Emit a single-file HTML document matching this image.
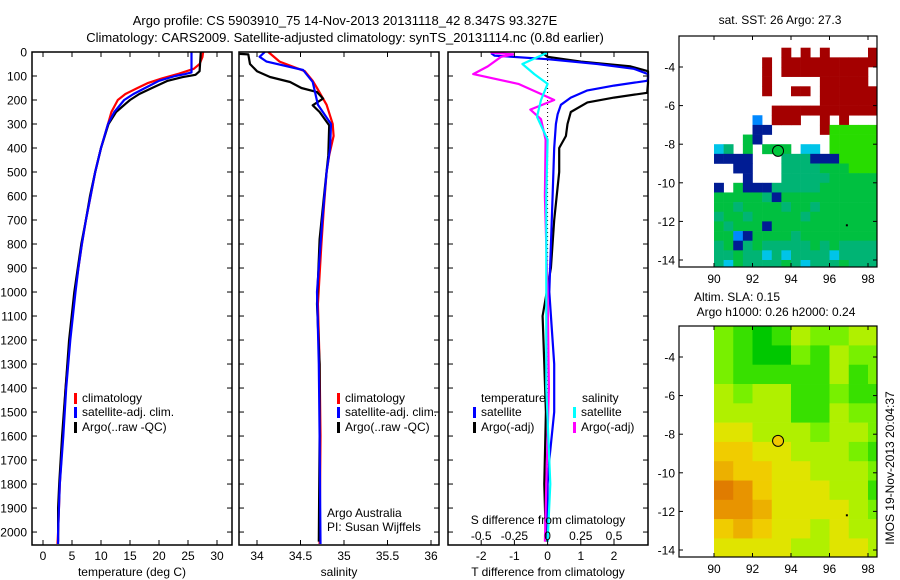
<!DOCTYPE html>
<html><head><meta charset="utf-8">
<style>
html,body{margin:0;padding:0;background:#fff;}
svg{display:block;font-family:"Liberation Sans",Arial,sans-serif;}
text{fill:#000;}
</style></head>
<body>
<svg id="chart" width="900" height="580" viewBox="0 0 900 580" xmlns="http://www.w3.org/2000/svg">
<text x="345" y="25" font-size="13" text-anchor="middle">Argo profile: CS 5903910_75 14-Nov-2013 20131118_42 8.347S 93.327E</text>
<text x="345" y="42" font-size="13" text-anchor="middle">Climatology: CARS2009. Satellite-adjusted climatology: synTS_20131114.nc (0.8d earlier)</text>
<g id="g1"></g>
<g id="g2"></g>
<g id="g3"></g>
<g id="g4"></g>
<g id="g5"></g>
<text x="0" y="0" font-size="12" text-anchor="middle" transform="translate(894,468) rotate(-90)">IMOS 19-Nov-2013 20:04:37</text>
</svg>
<script>
// ---------- data ----------
const depthTicks=[0,100,200,300,400,500,600,700,800,900,1000,1100,1200,1300,1400,1500,1600,1700,1800,1900,2000];
const tTicks=[0,5,10,15,20,25,30];
const sTicks=[34,34.5,35,35.5,36];
const dTTicks=[-2,-1,0,1,2];
const dSTicks=[-0.5,-0.25,0,0.25,0.5];
const dSTickLabels=["-0.5","-0.25","0","0.25","0.5"];
const lonTicks=[90,92,94,96,98];
const latTicks=[-4,-6,-8,-10,-12,-14];

const tClimDepth=[0,20,50,70,90,110,130,150,175,200,250,300,400,500,600,700,800,900,1000,1200,1400,1600,1800,2000,2050];
const tClimVal=[27.6,27.5,27.0,26.0,23.5,20.5,18.0,16.3,14.2,12.9,11.8,11.2,10.0,9.0,8.2,7.4,6.7,6.1,5.5,4.6,3.9,3.4,2.9,2.6,2.5];
const tSatDepth=[0,85,92,100,120,150,175,200,250,300,400,500,600,700,800,900,1000,1200,1400,1600,1800,2000,2050];
const tSatVal=[25.6,25.6,24.5,22.8,20.0,17.6,15.6,14.0,12.3,11.2,10.0,9.0,8.2,7.4,6.7,6.1,5.6,4.7,4.0,3.5,2.9,2.6,2.6];
const tArgoDepth=[0,80,95,105,120,150,175,200,250,300,400,500,600,700,800,900,1000,1200,1400,1600,1800,1900,2040];
const tArgoVal=[27.2,27.0,26.3,24.0,21.5,18.8,16.6,15.0,12.6,11.3,10.0,9.0,8.1,7.4,6.6,6.0,5.4,4.5,3.9,3.3,2.8,2.6,2.6];

const sClimDepth=[0,40,80,120,150,220,300,350,430,500,640,800,1050,1300,1600,2050];
const sClimVal=[34.13,34.26,34.55,34.64,34.69,34.8,34.87,34.88,34.83,34.8,34.77,34.74,34.7,34.72,34.73,34.72];
const sSatDepth=[0,20,40,75,125,220,300,400,500,700,1000,1300,1600,2050];
const sSatVal=[34.09,34.03,34.11,34.53,34.64,34.7,34.85,34.84,34.8,34.75,34.69,34.71,34.72,34.73];
const sArgoDepth=[8,10,50,80,104,125,150,167,194,222,250,306,430,600,780,1050,1300,1600,2040];
const sArgoVal=[33.8,33.9,33.92,34.0,34.15,34.38,34.51,34.69,34.76,34.64,34.72,34.83,34.82,34.77,34.72,34.69,34.72,34.72,34.71];

const dTSatDepth=[5,15,30,50,70,92,110,120,140,160,190,220,260,300,400,600,1000,1300,1500,1700,1800,2040];
const dTSatVal=[-1.7,-1.6,0,1.5,2.6,3.2,3.4,3.0,2.0,1.2,0.7,0.4,0.3,0.25,0.2,0.15,0.05,0.2,0.2,0.05,0.0,0.0];
const dTArgoDepth=[0,10,20,40,60,80,100,130,170,190,210,250,300,350,400,500,700,900,1100,1300,1500,1800,2040];
const dTArgoVal=[-0.2,-0.1,0,1,2.5,3.5,4,3.8,3,2,1.2,0.7,0.6,0.55,0.35,0.35,0.2,0.1,-0.15,-0.1,-0.05,-0.1,-0.05];
const dSSatDepth=[2,50,92,133,200,270,365,600,1000,1400,1800,2040];
const dSSatVal=[0,-0.19,-0.1,0,-0.05,-0.08,0,-0.01,-0.01,-0.01,0.02,0];
const dSArgoDepth=[2,10,20,60,92,133,175,200,240,280,365,600,1000,1400,1800,2040];
const dSArgoVal=[-0.43,-0.26,-0.35,-0.45,-0.56,-0.22,-0.05,0.05,-0.13,-0.05,-0.015,-0.02,0,0.01,-0.01,-0.02];

// SST map: 0.5deg cells, lon 90..98.5 (17 cols), lat -2.5..-14.5 (24 rows)
const sstRows=[
".................",
".......R.R.R....R",
".....R.RRRRRRRRRR",
".....R.RRRRRRRRR.",
".....R.....RRRRR.",
".....R..RR.RRRRRR",
"...........RRRRRR",
"......RRRRRRRRRRR",
"....B.RRR..R.R...",
"....bb.....RLLLLL",
"...Gb.......LLLLL",
"cg.G.GGG.cc.LLLLL",
"bbbb...gggbbbLLLL",
"..bb...ggggGGGLLL",
"...b...gggggGGGGG",
"b.GbbbgggggGGGGGG",
"GGGGGgbGGGGGGGGGG",
"GGgGGGGgGGgGGGGGG",
"gGGgGGGGGgGGGGGGG",
"GgGGGbGGGGGGGGGGG",
"GGBbGGGGgGGGGGGGG",
"gGbgGgggggGgGgggg",
"ggGggcgcggggcgggg",
"gcGggggGgcgggGggg"];
const sstColors={R:"#a40000",G:"#00c040",g:"#00b474",L:"#28dc00",c:"#00c4e8",b:"#001c94",B:"#0088ff"};

// SLA map: 1deg cells, lon 90..98.5 (9 cols), lat -2.4..-14.4 (12 rows), level 0..8
const slaRows=[
[2,1,0,1,3,2,2,3,3],
[2,1,0,0,2,1,3,2,2],
[2,1,1,1,1,1,3,1,2],
[3,2,3,3,1,1,2,1,1],
[3,3,3,3,1,1,3,2,2],
[4,4,3,3,3,2,3,3,2],
[5,5,4,4,3,3,3,2,1],
[6,5,5,4,4,3,3,3,2],
[8,7,5,4,4,4,3,3,1],
[7,7,6,4,4,4,4,3,2],
[5,6,5,4,4,3,4,3,3],
[4,4,4,4,3,3,4,4,3]];
const slaColors=["#00c800","#38e000","#78f000","#b0f000","#e0e400","#f0cc00","#ecb000","#e89400","#e07c00"];
const argoLon=93.327, argoLat=-8.347;

// ---------- drawing ----------
const NS="http://www.w3.org/2000/svg";
function mk(parent,tag,attrs,txt){const e=document.createElementNS(NS,tag);for(const k in attrs)e.setAttribute(k,attrs[k]);if(txt!==undefined)e.textContent=txt;parent.appendChild(e);return e;}
function lin(d0,d1,p0,p1){return v=>p0+(v-d0)/(d1-d0)*(p1-p0);}

const TOP=52, BOT=545;
const yD=lin(0,2054,TOP,BOT);

function frame(g,x0,x1,y0,y1){
  const r=mk(g,'rect',{x:x0,y:y0,width:x1-x0,height:y1-y0,fill:'none',stroke:'#000','stroke-width':1.5});
  
  
}
function depthAxis(g,x0,x1,labels){
  depthTicks.forEach(d=>{
    const y=yD(d);
    mk(g,'line',{x1:x0,x2:x0+5,y1:y,y2:y,stroke:'#000'});
    mk(g,'line',{x1:x1-5,x2:x1,y1:y,y2:y,stroke:'#000'});
    if(labels){const t=mk(g,'text',{x:x0-5,y:y+4.5,'font-size':12,'text-anchor':'end'},d);
      
      }
  });
}
function xAxis(g,ticks,fx,labels,y){
  ticks.forEach((v,i)=>{
    const x=fx(v);
    mk(g,'line',{x1:x,x2:x,y1:BOT,y2:BOT-5,stroke:'#000'});
    mk(g,'line',{x1:x,x2:x,y1:TOP,y2:TOP+5,stroke:'#000'});
    const t=mk(g,'text',{x:x,y:y,'font-size':12,'text-anchor':'middle'},labels?labels[i]:v);
    
    
  });
}
function profile(g,depths,vals,fx,color,name,x0,x1){
  const pts=depths.map((d,i)=>Math.max(x0,Math.min(x1,fx(vals[i]))).toFixed(1)+','+yD(d).toFixed(1)).join(' ');
  const p=mk(g,'polyline',{points:pts,fill:'none',stroke:color,'stroke-width':2.2,'stroke-linejoin':'round'});
  
  
}
function legendRow(g,x,y,color,label,name){
  mk(g,'rect',{x:x,y:y-9,width:3,height:11,fill:color});
  const t=mk(g,'text',{x:x+8,y:y,'font-size':12},label);
  
  
}

// Panel 1 temperature
(function(){
  const g=document.getElementById('g1'), x0=32,x1=232;
  const fx=lin(0,30,43,217);
  profile(g,tClimDepth,tClimVal,fx,'#ff0000','temp-climatology-line',x0,x1);
  profile(g,tArgoDepth,tArgoVal,fx,'#000000','temp-argo-line',x0,x1);
  profile(g,tSatDepth,tSatVal,fx,'#0000ff','temp-satellite-line',x0,x1);
  frame(g,x0,x1,TOP,BOT);depthAxis(g,x0,x1,true);xAxis(g,tTicks,fx,null,560);
  const t=mk(g,'text',{x:132,y:576,'font-size':12,'text-anchor':'middle'},'temperature (deg C)');
  
  legendRow(g,74,402,'#ff0000','climatology','legend-climatology');
  legendRow(g,74,416,'#0000ff','satellite-adj. clim.','legend-satellite');
  legendRow(g,74,431,'#000000','Argo(..raw -QC)','legend-argo');
})();
// Panel 2 salinity
(function(){
  const g=document.getElementById('g2'), x0=239,x1=439;
  const fx=lin(34,36,257,431);
  profile(g,sClimDepth,sClimVal,fx,'#ff0000','sal-climatology-line',x0,x1);
  profile(g,sArgoDepth,sArgoVal,fx,'#000000','sal-argo-line',x0,x1);
  profile(g,sSatDepth,sSatVal,fx,'#0000ff','sal-satellite-line',x0,x1);
  frame(g,x0,x1,TOP,BOT);depthAxis(g,x0,x1,false);xAxis(g,sTicks,fx,null,560);
  const t=mk(g,'text',{x:339,y:576,'font-size':12,'text-anchor':'middle'},'salinity');
  
  legendRow(g,337,402,'#ff0000','climatology','legend-climatology');
  legendRow(g,337,416,'#0000ff','satellite-adj. clim.','legend-satellite');
  legendRow(g,337,431,'#000000','Argo(..raw -QC)','legend-argo');
  const a=mk(g,'text',{x:327,y:517,'font-size':12},'Argo Australia');
  
  const b=mk(g,'text',{x:327,y:531,'font-size':12},'PI: Susan Wijffels');
  
})();
// Panel 3 differences
(function(){
  const g=document.getElementById('g3'), x0=448,x1=648;
  const fx=lin(0,2,547.6,614);
  const fs=lin(0,0.5,547.6,614);
  mk(g,'line',{x1:547.6,x2:547.6,y1:TOP,y2:500,stroke:'#000','stroke-dasharray':'1,3'});
  profile(g,dTArgoDepth,dTArgoVal,fx,'#000000','tdiff-argo-line',x0,x1);
  profile(g,dTSatDepth,dTSatVal,fx,'#0000ff','tdiff-satellite-line',x0,x1);
  profile(g,dSArgoDepth,dSArgoVal,fs,'#ff00ff','sdiff-argo-line',x0,x1);
  profile(g,dSSatDepth,dSSatVal,fs,'#00ffff','sdiff-satellite-line',x0,x1);
  frame(g,x0,x1,TOP,BOT);depthAxis(g,x0,x1,false);xAxis(g,dTTicks,fx,null,560);
  dSTicks.forEach((v,i)=>{const t=mk(g,'text',{x:fs(v),y:540,'font-size':12,'text-anchor':'middle'},dSTickLabels[i]);
    });
  const s=mk(g,'text',{x:548,y:524,'font-size':12,'text-anchor':'middle'},'S difference from climatology');
  
  const t=mk(g,'text',{x:548,y:576,'font-size':12,'text-anchor':'middle'},'T difference from climatology');
  
  const h1=mk(g,'text',{x:481,y:402,'font-size':12},'temperature');
  
  const h2=mk(g,'text',{x:582,y:402,'font-size':12},'salinity');
  
  legendRow(g,473,416,'#0000ff','satellite','legend-t-satellite');
  legendRow(g,473,431,'#000000','Argo(-adj)','legend-t-argo');
  legendRow(g,573,416,'#00ffff','satellite','legend-s-satellite');
  legendRow(g,573,431,'#ff00ff','Argo(-adj)','legend-s-argo');
})();
// Maps
function mapAxes(g,y0,y1,fLon,fLat,labY){
  const x0=679,x1=877;
  lonTicks.forEach(v=>{const x=fLon(v);
    mk(g,'line',{x1:x,x2:x,y1:y0,y2:y0+4,stroke:'#000'});mk(g,'line',{x1:x,x2:x,y1:y1,y2:y1-4,stroke:'#000'});
    const t=mk(g,'text',{x:x,y:labY,'font-size':12,'text-anchor':'middle'},v);
    });
  latTicks.forEach(v=>{const y=fLat(v);
    mk(g,'line',{x1:x0,x2:x0+4,y1:y,y2:y,stroke:'#000'});mk(g,'line',{x1:x1,x2:x1-4,y1:y,y2:y,stroke:'#000'});
    const t=mk(g,'text',{x:x0-4,y:y+4.5,'font-size':12,'text-anchor':'end'},v);
    });
  const r=mk(g,'rect',{x:x0,y:y0,width:x1-x0,height:y1-y0,fill:'none',stroke:'#000','stroke-width':1.2});
  
}
function argoMarker(g,fLon,fLat,fill){
  const c=mk(g,'circle',{cx:fLon(argoLon),cy:fLat(argoLat),r:5.5,fill:fill,stroke:'#000','stroke-width':1});
  
  mk(g,'rect',{x:fLon(96.85),y:fLat(-12.15),width:2,height:2,fill:'#000'});
}
(function(){
  const g=document.getElementById('g4'), y0=36,y1=267;
  const fLon=lin(90,98,714,868), fLat=lin(-4,-14,67,260);
  const cells=mk(g,'g',{});
  
  sstRows.forEach((row,r)=>{[...row].forEach((ch,c)=>{
    if(ch==='.')return;
    const la0=-2.5-0.5*r, lo0=90+0.5*c;
    const ya=Math.max(y0,fLat(la0)), yb=Math.min(y1,fLat(la0-0.5));
    const xa=fLon(lo0), xb=Math.min(877,fLon(lo0+0.5));
    if(yb<=ya)return;
    mk(cells,'rect',{x:xa,y:ya,width:xb-xa+0.3,height:yb-ya+0.3,fill:sstColors[ch]});
  });});
  argoMarker(g,fLon,fLat,'#00c83c');
  mapAxes(g,y0,y1,fLon,fLat,283);
  const t=mk(g,'text',{x:780,y:24,'font-size':12,'text-anchor':'middle'},'sat. SST: 26 Argo: 27.3');
  
})();
(function(){
  const g=document.getElementById('g5'), y0=326,y1=557;
  const fLon=lin(90,98,714,868), fLat=lin(-4,-14,357,550);
  const cells=mk(g,'g',{});
  
  slaRows.forEach((row,r)=>{row.forEach((lv,c)=>{
    const la0=-2.4-r, lo0=90+c;
    const ya=Math.max(y0,fLat(la0)), yb=Math.min(y1,fLat(la0-1));
    const xa=fLon(lo0), xb=Math.min(877,fLon(lo0+1));
    mk(cells,'rect',{x:xa,y:ya,width:xb-xa+0.3,height:yb-ya+0.3,fill:slaColors[lv]});
  });});
  argoMarker(g,fLon,fLat,'#f0c800');
  mapAxes(g,y0,y1,fLon,fLat,573);
  const a=mk(g,'text',{x:737,y:301,'font-size':12,'text-anchor':'middle'},'Altim. SLA: 0.15');
  
  const b=mk(g,'text',{x:776,y:316,'font-size':12,'text-anchor':'middle'},'Argo h1000: 0.26 h2000: 0.24');
  
})();
</script>
</body></html>
